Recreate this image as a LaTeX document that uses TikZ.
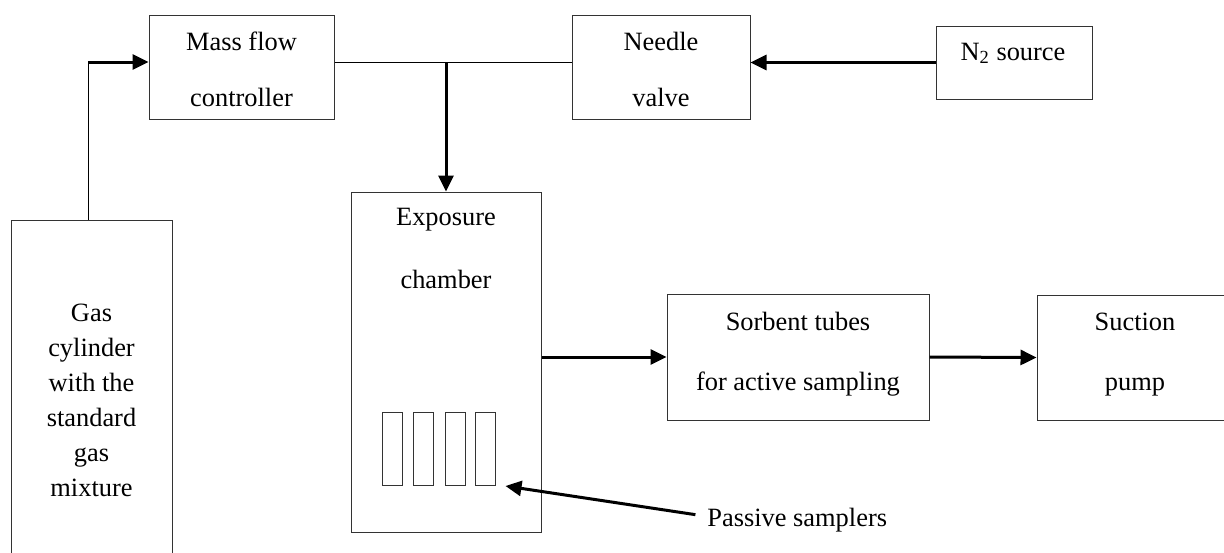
\documentclass[tikz,border=0pt]{standalone}
\usepackage{fontspec}
\setmainfont{Liberation Serif}
\usetikzlibrary{arrows.meta,fit}

\tikzset{
  unit/.style={draw=black!80, line width=0.5pt, inner sep=0pt},
  tube/.style={draw=black!80, line width=0.5pt, inner sep=0pt,
    minimum width=9.75pt, minimum height=36.5pt, anchor=north west},
  txt/.style={font=\fontsize{13.2}{16}\selectfont, inner sep=0pt, anchor=base},
  pipe/.style={line width=0.5pt},
  flow/.style={line width=1.5pt, -{Triangle[length=8pt,width=7.5pt]}},
}

\begin{document}
\begin{tikzpicture}[x=0.5pt, y=-0.5pt]
    \clip (0,0) rectangle (1224,552);

    % the units, given by their corners
    \node[unit, fit={(11,220) (172,570)}] (gas) {};
    \node[unit, fit={(149,15) (334,119)}] (mfc) {};
    \node[unit, fit={(572,15) (750,119)}] (needle) {};
    \node[unit, fit={(936,26) (1092,99)}] (n2) {};
    \node[unit, fit={(351,192) (541,532)}] (chamber) {};
    \node[unit, fit={(667,294) (929,420)}] (sorbent) {};
    \node[unit, fit={(1037,295) (1232,420)}] (suction) {};

    % passive samplers inside the chamber
    \foreach \i/\x in {1/382,2/413,3/445,4/475}
      \node[tube] (s\i) at (\x,412) {};

    % labels
    \node[txt] (gas-a) at (91.5,321) {Gas};
    \node[txt] (gas-b) at (91.5,356) {cylinder};
    \node[txt] (gas-c) at (91.5,391) {with the};
    \node[txt] (gas-d) at (91.5,426) {standard};
    \node[txt] (gas-e) at (91.5,461) {gas};
    \node[txt] (gas-f) at (91.5,496) {mixture};
    \node[txt] (mfc-a) at (241.5,50) {Mass flow};
    \node[txt] (mfc-b) at (241.5,106.5) {controller};
    \node[txt] (needle-a) at (661,50) {Needle};
    \node[txt] (needle-b) at (661,106.5) {valve};
    \node[txt] (n2-a) at (1013,60) {N\textsubscript{2} source};
    \node[txt] (chamber-a) at (446,225) {Exposure};
    \node[txt] (chamber-b) at (446,288) {chamber};
    \node[txt] (sorbent-a) at (798,330) {Sorbent tubes};
    \node[txt] (sorbent-b) at (798,390) {for active sampling};
    \node[txt] (suction-a) at (1135,330) {Suction};
    \node[txt] (suction-b) at (1135,390) {pump};
    \node[txt, anchor=base west] (passive) at (707,526) {Passive samplers};

    % gas lines
    \coordinate (bend) at (88,62);
    \coordinate (tee) at (446,62);
    \draw[pipe] (gas.north -| bend) -- (bend);
    \draw[flow] (bend) -- (bend -| mfc.west);
    \draw[pipe] (tee -| mfc.east) -- (tee -| needle.west);
    \draw[flow] (tee) -- (tee |- chamber.north);
    \draw[flow] (n2.west) -- (n2.west -| needle.east);
    \draw[flow] (sorbent.west -| chamber.east) -- (sorbent.west);
    \draw[flow] (sorbent.east) -- (suction.west);

    % pointer to the samplers
    \draw[flow] ([shift={(-5.8pt,2.5pt)}]passive.west) -- ([xshift=5pt]s4.south east);
\end{tikzpicture}
\end{document}
